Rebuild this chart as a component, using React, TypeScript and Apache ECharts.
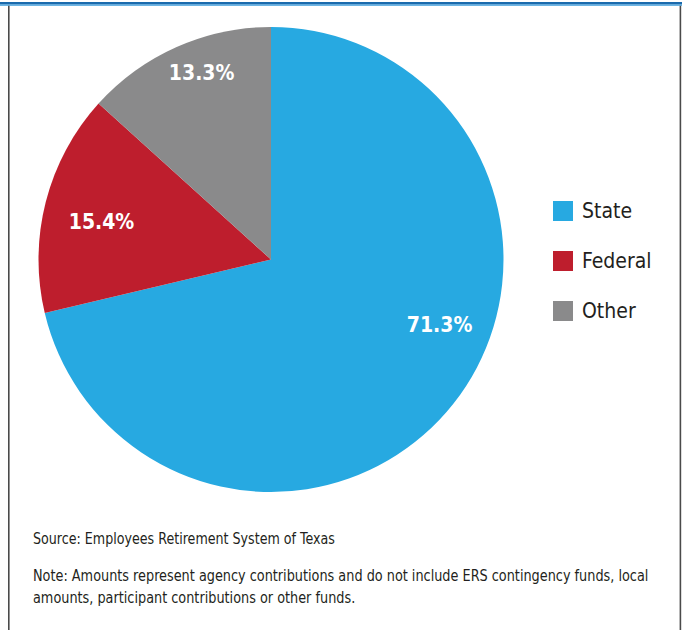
import React, { useEffect, useRef } from "react";
import * as echarts from "echarts";

const categories = ["State", "Federal", "Other"];
const values = [71.3, 15.4, 13.3];
const colors = ["#27a9e1", "#be1e2d", "#8a8a8b"];
const labelOffsets = [
  [75, -8],
  [-54, -8],
  [-21, -78],
];
const sourceText = "Source: Employees Retirement System of Texas";
const noteLines = [
  "Note: Amounts represent agency contributions and do not include ERS contingency funds, local",
  "amounts, participant contributions or other funds.",
];

const FONT = "'Liberation Sans Narrow', 'DejaVu Sans Condensed', 'Roboto Condensed', 'Arial Narrow', sans-serif";

export default function App() {
  const ref = useRef<HTMLDivElement>(null);
  useEffect(() => {
    if (!ref.current) return;
    const chart = echarts.init(ref.current, null, { renderer: "svg" });
    const noteStyle = { fill: "#231f20", fontSize: 15, fontFamily: FONT, verticalAlign: "middle" };
    chart.setOption({
      animation: false,
      backgroundColor: "#ffffff",
      legend: {
        orient: "vertical",
        left: 548,
        top: 195,
        itemWidth: 20,
        itemHeight: 20,
        itemGap: 28,
        icon: "rect",
        selectedMode: false,
        data: categories,
        textStyle: {
          fontFamily: FONT,
          fontSize: 21,
          lineHeight: 22,
          color: "#231f20",
          padding: [0, 0, 0, 4],
        },
      },
      series: [
        {
          type: "pie",
          center: [271, 259.5],
          radius: 232.5,
          startAngle: 90,
          clockwise: true,
          silent: true,
          avoidLabelOverlap: false,
          data: categories.map((c, i) => ({
            name: c,
            value: values[i],
            itemStyle: { color: colors[i] },
          })),
          label: {
            show: true,
            position: "inside",
            formatter: (p: any) => p.value.toFixed(1) + "%",
            color: "#ffffff",
            fontFamily: FONT,
            fontWeight: "bold",
            fontSize: 21,
          },
          labelLine: { show: false },
          labelLayout: (p: any) => ({
            dx: labelOffsets[p.dataIndex][0],
            dy: labelOffsets[p.dataIndex][1],
          }),
          emphasis: { disabled: true },
        },
      ],
      graphic: [
        { type: "rect", shape: { x: 0, y: 2, width: 682, height: 2.4 }, style: { fill: "#1a6aad" } },
        { type: "rect", shape: { x: 0, y: 4.4, width: 682, height: 1.4 }, style: { fill: "#3c9ddb" } },
        { type: "rect", shape: { x: 8, y: 5.8, width: 1.6, height: 630 }, style: { fill: "#4a4a4a" } },
        { type: "rect", shape: { x: 679.6, y: 5.8, width: 1.6, height: 630 }, style: { fill: "#4a4a4a" } },
        { type: "text", x: 33, y: 538, scaleX: 0.94, style: { ...noteStyle, text: sourceText } },
        { type: "text", x: 33, y: 575, scaleX: 0.953, style: { ...noteStyle, text: noteLines[0] } },
        { type: "text", x: 33, y: 597, scaleX: 0.953, style: { ...noteStyle, text: noteLines[1] } },
      ],
    });
    return () => chart.dispose();
  }, []);
  return (
    <div
      ref={ref}
      style={{ position: "absolute", left: 0, top: 0, width: 682, height: 630 }}
    />
  );
}
